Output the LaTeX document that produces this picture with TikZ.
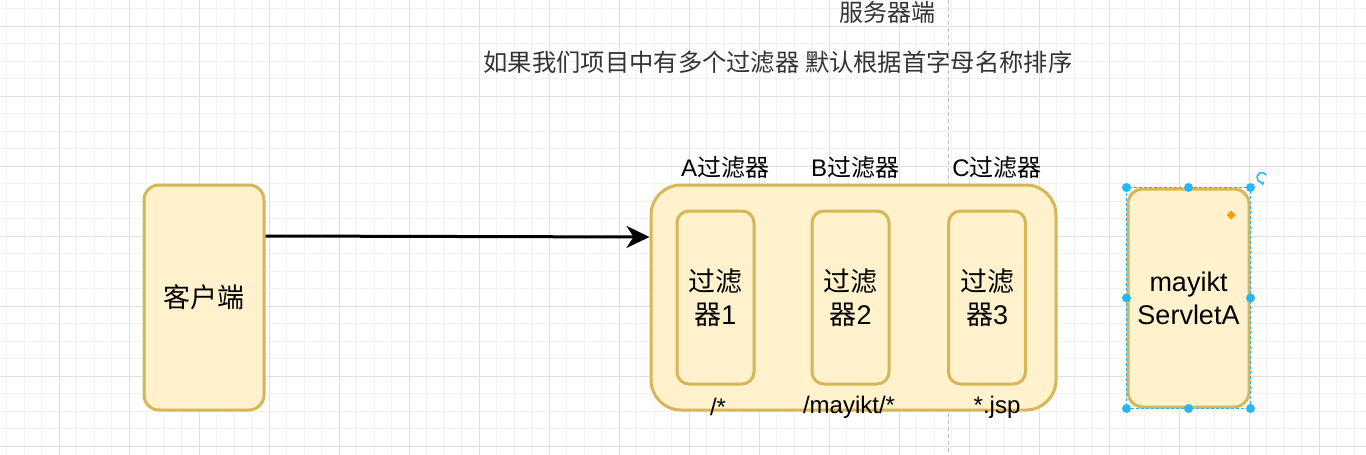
\documentclass[tikz,border=0pt]{standalone}
\usepackage{fontspec}
\setmainfont{Liberation Sans}
\newfontfamily\cjk{Noto Sans CJK SC}
\usetikzlibrary{arrows.meta,positioning,calc}
\definecolor{cFill}{HTML}{FFF2CC}
\definecolor{cLine}{HTML}{D6B656}
\definecolor{cGridA}{HTML}{F2F2F2}
\definecolor{cGridB}{HTML}{E0E0E0}
\definecolor{cSel}{HTML}{29B6F2}
\definecolor{cHint}{HTML}{FF9900}
\definecolor{cText}{HTML}{333333}

\begin{document}
\begin{tikzpicture}[x=1pt,y=-1pt,
   box/.style={draw=cLine,line width=3pt,fill=cFill,rounded corners=15pt,align=center,inner sep=0pt,font=\fontsize{27}{33}\selectfont},
   flt/.style={box,rounded corners=12pt,minimum width=77pt,minimum height=173pt},
   lbl/.style={inner sep=0pt,font=\fontsize{24}{29}\selectfont},
   a/.style={-{Stealth[length=23pt,width=22pt,inset=7pt]},line width=3pt,black}]
  \useasboundingbox (0,0) rectangle (1366,455);
  % grid
  \foreach \i in {0,...,77} \draw[cGridA,line width=0.8pt] (6.8+17.5*\i,0) -- ++(0,455);
  \foreach \i in {0,...,25} \draw[cGridA,line width=0.8pt] (0,8.8+17.5*\i) -- ++(1366,0);
  \foreach \i in {0,...,19} \draw[cGridB,line width=0.8pt] (59.3+70*\i,0) -- ++(0,455);
  \foreach \i in {0,...,6} \draw[cGridB,line width=0.8pt] (0,26.3+70*\i) -- ++(1366,0);
  \draw[black!25,line width=0.8pt,dash pattern=on 4pt off 3pt] (948,0) -- (948,455);
  % titles
  \node[lbl,text=cText] (title) at (887,12) {\cjk 服务器端};
  \node[lbl,text=cText,font=\fontsize{24.3}{29}\selectfont] (note) at (778,62) {\cjk 如果我们项目中有多个过滤器 默认根据首字母名称排序};
  % client
  \node[box,minimum width=120pt,minimum height=225pt] (client) at (204,297.5) {\cjk 客户端};
  % server side filters
  \node[box,rounded corners=30pt,minimum width=405pt,minimum height=225pt] (outer) at (853.5,297.5) {};
  \node[flt] (f1) at (715.5,297.5) {{\cjk 过滤}\\{\cjk 器}1};
  \node[flt] (f2) at (850.5,297.5) {{\cjk 过滤}\\{\cjk 器}2};
  \node[flt] (f3) at (987,297.5) {{\cjk 过滤}\\{\cjk 器}3};
  \node[lbl] (la) at (725,167) {A{\cjk 过滤器}};
  \node[lbl] (lb) at (855,167) {B{\cjk 过滤器}};
  \node[lbl] (lc) at (997,167) {C{\cjk 过滤器}};
  \node[lbl] (pa) at (718,407) {/*};
  \node[lbl] (pb) at (849,407) {/mayikt/*};
  \node[lbl] (pc) at (997,407) {*.jsp};
  \draw[a] (client.east |- 0,236) -- (outer.west |- 0,237);
  % servlet (selected)
  \node[box,minimum width=121pt,minimum height=218pt] (srv) at (1188.5,298) {mayikt\\ServletA};
  \draw[cSel,line width=0.8pt,dash pattern=on 3pt off 2pt] (srv.north west) rectangle (srv.south east);
  \foreach \p in {north west,north,north east,east,south east,south,south west,west}
    \fill[cSel] (srv.\p) circle (4.5pt);
  \fill[cHint] (1231,210.5) -- (1235.5,215) -- (1231,219.5) -- (1226.5,215) -- cycle;
  \draw[cSel,line width=1.6pt,-{Stealth[length=4pt,width=5pt]}] ($(1262,177.5)+(-30:5)$) arc[start angle=-30,end angle=-300,radius=5];
\end{tikzpicture}
\end{document}
